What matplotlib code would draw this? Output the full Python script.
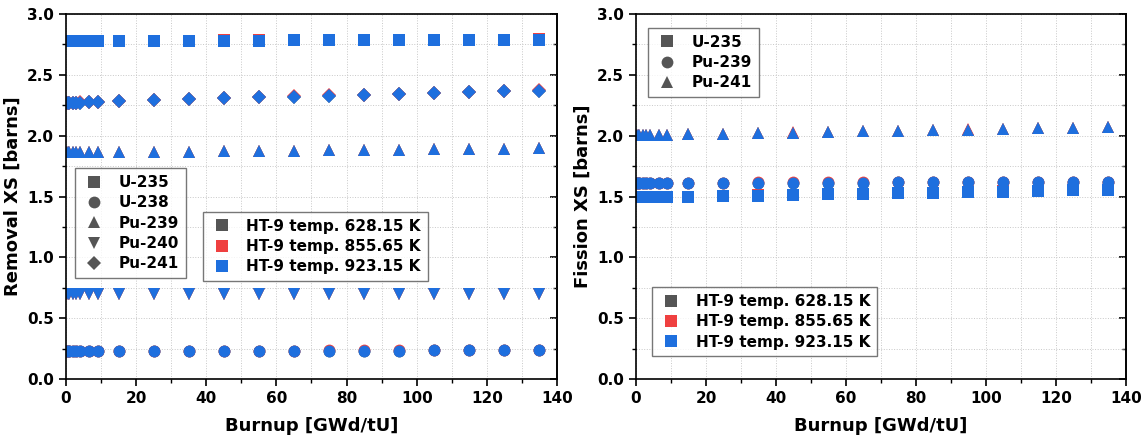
import matplotlib
matplotlib.use('Agg')
import matplotlib.pyplot as plt
import matplotlib.ticker as mticker
from matplotlib.lines import Line2D

# burnup steps [GWd/tU]
burnup = [0, 0.5, 1, 2, 3, 4, 6.5, 9, 15, 25, 35, 45, 55, 65, 75, 85, 95, 105, 115, 125, 135]

# removal cross sections [barns] (923.15 K)
rem_u235 = [2.776, 2.776, 2.776, 2.776, 2.777, 2.777, 2.777, 2.777, 2.778, 2.779, 2.780, 2.781,
            2.782, 2.783, 2.784, 2.785, 2.786, 2.787, 2.788, 2.789, 2.790]
rem_u238 = [0.229, 0.229, 0.229, 0.229, 0.229, 0.229, 0.229, 0.229, 0.230, 0.230, 0.231, 0.231,
            0.232, 0.232, 0.233, 0.234, 0.234, 0.235, 0.236, 0.237, 0.238]
rem_pu239 = [1.862, 1.862, 1.862, 1.862, 1.862, 1.862, 1.863, 1.863, 1.864, 1.866, 1.868, 1.871,
             1.873, 1.876, 1.879, 1.881, 1.884, 1.887, 1.890, 1.893, 1.896]
rem_pu240 = [0.701, 0.701, 0.701, 0.701, 0.701, 0.701, 0.701, 0.701, 0.701, 0.700, 0.700, 0.700,
             0.700, 0.700, 0.699, 0.699, 0.699, 0.699, 0.698, 0.698, 0.698]
rem_pu241 = [2.268, 2.268, 2.269, 2.270, 2.271, 2.272, 2.273, 2.275, 2.282, 2.290, 2.298, 2.306,
             2.314, 2.321, 2.329, 2.336, 2.343, 2.350, 2.357, 2.364, 2.371]

# fission cross sections [barns] (923.15 K)
fis_u235 = [1.493, 1.493, 1.493, 1.493, 1.494, 1.494, 1.494, 1.495, 1.497, 1.502, 1.507, 1.512,
            1.517, 1.521, 1.526, 1.531, 1.536, 1.541, 1.546, 1.551, 1.556]
fis_pu239 = [1.612, 1.612, 1.612, 1.612, 1.612, 1.612, 1.612, 1.612, 1.613, 1.613, 1.614, 1.614,
             1.615, 1.615, 1.616, 1.616, 1.617, 1.617, 1.618, 1.618, 1.619]
fis_pu241 = [2.004, 2.004, 2.004, 2.005, 2.005, 2.005, 2.006, 2.007, 2.010, 2.015, 2.020, 2.025,
             2.030, 2.035, 2.040, 2.045, 2.050, 2.055, 2.060, 2.064, 2.069]

temps = ['HT-9 temp. 628.15 K', 'HT-9 temp. 855.65 K', 'HT-9 temp. 923.15 K']
temp_colors = ['#555555', '#ef4040', '#1e6fde']
temp_shift = [0.0, 0.0015, 0.0]  # temperatures give almost the same XS

plt.rcParams['font.family'] = 'DejaVu Sans'
plt.rcParams['font.weight'] = 'bold'

fig = plt.figure(figsize=(11.43, 4.4), dpi=100)
ax1 = fig.add_axes([0.0577, 0.1386, 0.4296, 0.8295])
ax2 = fig.add_axes([0.5564, 0.1386, 0.4287, 0.8295])

removal = [(rem_u235, 's', 'U-235'), (rem_u238, 'o', 'U-238'), (rem_pu239, '^', 'Pu-239'),
           (rem_pu240, 'v', 'Pu-240'), (rem_pu241, 'D', 'Pu-241')]
fission = [(fis_u235, 's', 'U-235'), (fis_pu239, 'o', 'Pu-239'), (fis_pu241, '^', 'Pu-241')]

msize = {'s': 8, 'o': 8.5, '^': 8.5, 'v': 8.5, 'D': 7.5}

for ax, series in [(ax1, removal), (ax2, fission)]:
    for col, dv in zip(temp_colors, temp_shift):
        for vals, mk, name in series:
            ax.plot(burnup, [v + dv for v in vals], linestyle='none', marker=mk,
                    ms=msize[mk], color=col, markeredgewidth=0)

    ax.set_xlim(0, 140)
    ax.set_ylim(0, 3.0)
    ax.xaxis.set_major_locator(mticker.MultipleLocator(20))
    ax.xaxis.set_minor_locator(mticker.MultipleLocator(10))
    ax.yaxis.set_major_locator(mticker.MultipleLocator(0.5))
    ax.yaxis.set_minor_locator(mticker.MultipleLocator(0.25))
    ax.yaxis.set_major_formatter(mticker.FormatStrFormatter('%.1f'))
    ax.grid(True, which='both', linestyle=':', linewidth=0.7, color='#c8c8c8')
    ax.set_axisbelow(True)
    ax.tick_params(which='both', direction='out', labelsize=11, right=False, top=False)
    ax.tick_params(which='major', length=5, width=1.2)
    ax.tick_params(which='minor', length=3, width=1.0)
    for side in ax.spines.values():
        side.set_linewidth(1.2)
    ax.set_xlabel('Burnup [GWd/tU]', fontsize=13, fontweight='bold', labelpad=8)

    # right spine: ticks pointing into the plot, no labels
    sec = ax.secondary_yaxis('right')
    sec.yaxis.set_major_locator(mticker.MultipleLocator(0.5))
    sec.yaxis.set_minor_locator(mticker.MultipleLocator(0.25))
    sec.tick_params(which='both', direction='in', labelright=False)
    sec.tick_params(which='major', length=5, width=1.2)
    sec.tick_params(which='minor', length=3, width=1.0)
    sec.spines['right'].set_linewidth(1.2)

ax1.set_ylabel('Removal XS [barns]', fontsize=13, fontweight='bold')
ax2.set_ylabel('Fission XS [barns]', fontsize=13, fontweight='bold')

leg_kw = dict(frameon=True, fancybox=False, edgecolor='#555555', fontsize=11,
              handletextpad=0.8, borderpad=0.45, labelspacing=0.35, handlelength=1.6,
              borderaxespad=0)


def iso_handles(series):
    return [Line2D([], [], linestyle='none', marker=mk, ms=msize[mk], color='#555555',
                   markeredgewidth=0, label=name) for _, mk, name in series]


def temp_handles():
    return [Line2D([], [], linestyle='none', marker='s', ms=8, color=c,
                   markeredgewidth=0, label=t) for c, t in zip(temp_colors, temps)]


l1 = ax1.legend(handles=iso_handles(removal), loc='upper left',
                bbox_to_anchor=(0.018, 0.578), **leg_kw)
ax1.add_artist(l1)
l2 = ax1.legend(handles=temp_handles(), loc='upper left',
                bbox_to_anchor=(0.279, 0.458), **leg_kw)

l3 = ax2.legend(handles=iso_handles(fission), loc='upper left',
                bbox_to_anchor=(0.024, 0.962), **leg_kw)
ax2.add_artist(l3)
l4 = ax2.legend(handles=temp_handles(), loc='upper left',
                bbox_to_anchor=(0.033, 0.252), **leg_kw)

for leg in (l1, l2, l3, l4):
    leg.get_frame().set_linewidth(1.0)
    for txt in leg.get_texts():
        txt.set_fontweight('bold')

fig.savefig('out.png', dpi=100)
